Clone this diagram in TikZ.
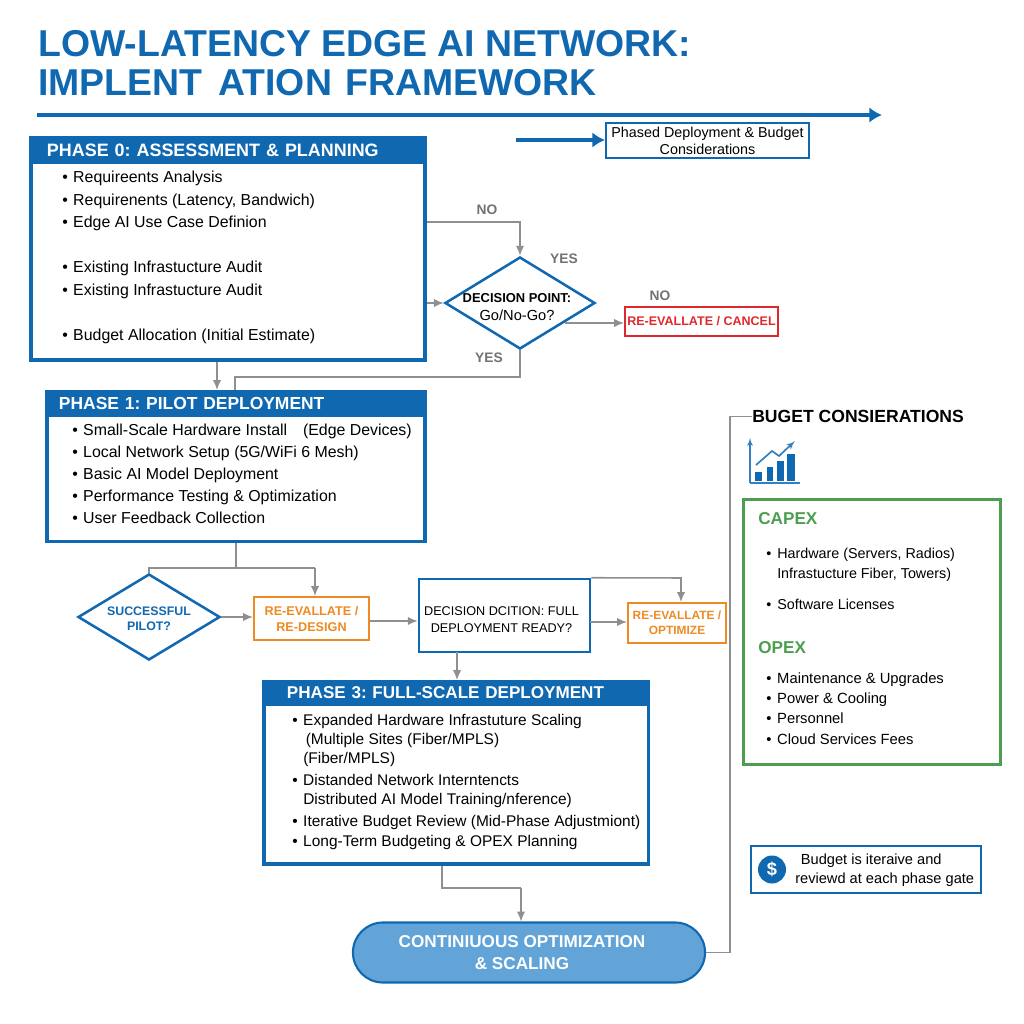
\documentclass[tikz,border=0pt]{standalone}
\usepackage{fontspec}
\setmainfont{Liberation Sans}
\usetikzlibrary{shapes,arrows,arrows.meta}
\definecolor{bluemain}{HTML}{1068B0}
\definecolor{greenmain}{HTML}{4C9F50}
\definecolor{orangemain}{HTML}{EE8A24}
\definecolor{redmain}{HTML}{E0282C}
\definecolor{graymain}{HTML}{8F8F8F}
\definecolor{pillfill}{HTML}{62A4D8}
\newcommand{\bul}{\makebox[7.8pt][l]{\textbullet}}
\newcommand{\nob}{\hspace*{7.8pt}}
\tikzstyle{phase} = [rectangle, draw=bluemain, line width=2.5pt, inner sep=0pt]
\tikzstyle{header} = [rectangle, fill=bluemain, text=white, inner sep=0pt, align=left, font=\fontsize{12.4}{15}\selectfont\bfseries]
\tikzstyle{body} = [anchor=west, inner sep=0pt, align=left, font=\fontsize{11.3}{16}\selectfont]
\tikzstyle{ask} = [diamond, draw=bluemain, line width=1.8pt, inner sep=0pt]
\tikzstyle{redo} = [rectangle, draw=orangemain, line width=1.5pt, text=orangemain, align=center, inner sep=0pt]
\tikzstyle{tag} = [inner sep=0pt, text=graymain!80!black, font=\fontsize{9.8}{12}\selectfont\bfseries]
\tikzstyle{note} = [rectangle, draw=bluemain, line width=1.4pt, inner sep=0pt, align=center]
\tikzstyle{line} = [draw=graymain, line width=1.1pt, -{Latex[length=7pt,width=6pt]}]
\tikzstyle{plain} = [draw=graymain, line width=1.1pt]
\tikzstyle{bigline} = [draw=bluemain, line width=2.6pt, -{Latex[length=9pt,width=11pt]}]
\begin{document}
\frenchspacing
\begin{tikzpicture}[x=0.025cm, y=-0.025cm]
	\useasboundingbox (0,0) rectangle (1024,1024);

		\node [anchor=west, inner sep=0pt, text=bluemain, align=left, font=\fontsize{26.6}{27.7}\selectfont\bfseries] (title) at (38,63) {LOW-LATENCY EDGE AI NETWORK:\\IMPLENT\hspace{4pt} ATION\hspace{2pt} FRAMEWORK};
		\coordinate (rulestart) at (37,115);
		\coordinate (ruleend) at (882,115);
		\path [bigline] (rulestart) -- (ruleend);

		\node [note, minimum width=5.075cm, minimum height=0.875cm, font=\fontsize{10.2}{12}\selectfont] (legend) at (707.5,140.5) {Phased Deployment \& Budget\\Considerations};
		\coordinate (legendstart) at (516,140);
		\path [bigline] (legendstart) -- (legend.west |- legendstart);

		\node [phase, minimum width=9.86cm, minimum height=5.56cm] (phase0) at (228,249) {};
		\node [header, minimum width=9.95cm, minimum height=0.7cm, text width=9.05cm, font=\fontsize{12.75}{15}\selectfont\bfseries] (head0) at (228,150) {PHASE 0: ASSESSMENT \& PLANNING};
		\node [body] (list0) at (62,257.5) {\bul Requireents Analysis\\\bul Requirenents (Latency, Bandwich)\\\bul Edge AI Use Case Definion\\[16pt]\bul Existing Infrastucture Audit\\\bul Existing Infrastucture Audit\\[16pt]\bul Budget Allocation (Initial Estimate)};

		\node [ask, minimum width=3.75cm, minimum height=2.3cm] (decision) at (520,303) {};
		\node [inner sep=0pt, align=center, font=\fontsize{9.2}{13}\selectfont] (decisiontext) at (517,307) {\textbf{DECISION POINT:}\\\fontsize{10.4}{13}\selectfont Go/No-Go?};
		\node [rectangle, draw=redmain, line width=1.4pt, minimum width=3.825cm, minimum height=0.725cm, inner sep=0pt, text=redmain, font=\fontsize{8.9}{12}\selectfont\bfseries] (cancel) at (701.5,321.5) {RE-EVALLATE / CANCEL};
		\node [tag] (tagno1) at (487,210) {NO};
		\node [tag] (tagyes1) at (564,259) {YES};
		\node [tag] (tagno2) at (660,296) {NO};
		\node [tag] (tagyes2) at (489,358) {YES};

		\node [phase, minimum width=9.46cm, minimum height=3.74cm] (phase1) at (236,466.5) {};
		\node [header, minimum width=9.55cm, minimum height=0.675cm, text width=8.85cm] (head1) at (236,403.5) {PHASE 1: PILOT DEPLOYMENT};
		\node [body, font=\fontsize{11.3}{15.7}\selectfont] (list1) at (72,474) {\bul Small-Scale Hardware Install\quad (Edge Devices)\\\bul Local Network Setup (5G/WiFi 6 Mesh)\\\bul Basic AI Model Deployment\\\bul Performance Testing \& Optimization\\\bul User Feedback Collection};

		\node [ask, minimum width=3.55cm, minimum height=2.15cm] (pilot) at (149,617) {};
		\node [inner sep=0pt, align=center, text=bluemain, font=\fontsize{8.8}{10.4}\selectfont\bfseries] (pilottext) at (149,619) {SUCCESSFUL\\PILOT?};
		\node [redo, minimum width=2.875cm, minimum height=1.075cm, font=\fontsize{9}{11.4}\selectfont\bfseries] (redesign) at (311.5,618.5) {RE-EVALLATE /\\RE-DESIGN};
		\node [rectangle, draw=bluemain, line width=1.8pt, minimum width=4.275cm, minimum height=1.825cm, inner sep=0pt] (ready) at (504.5,615.5) {};
		\node [inner sep=0pt, align=center, font=\fontsize{9}{12}\selectfont] (readytext) at (501.5,620) {DECISION DCITION: FULL\\DEPLOYMENT READY?};
		\node [redo, minimum width=2.45cm, minimum height=1cm, font=\fontsize{8.5}{10.7}\selectfont\bfseries] (optimize) at (677,623) {RE-EVALLATE /\\OPTIMIZE};

		\node [phase, minimum width=9.61cm, minimum height=4.56cm] (phase3) at (456,773) {};
		\node [header, minimum width=9.7cm, minimum height=0.65cm, text width=8.45cm, font=\fontsize{12.15}{15}\selectfont\bfseries] (head3) at (456,693) {PHASE 3: FULL-SCALE DEPLOYMENT};
		\node [body, font=\fontsize{11}{13.5}\selectfont] (list3) at (292,782) {\bul Expanded Hardware Infrastuture Scaling\\\nob\,(Multiple Sites (Fiber/MPLS)\\\nob(Fiber/MPLS)\\[2.2pt]\bul Distanded Network Interntencts\\\nob Distributed AI Model Training/nference)\\[2.2pt]\bul Iterative Budget Review (Mid-Phase Adjustmiont)\\[0.8pt]\bul Long-Term Budgeting \& OPEX Planning};

		\node [rounded rectangle, draw=bluemain, line width=1.5pt, fill=pillfill, minimum width=8.8cm, minimum height=1.5cm, inner sep=0pt] (scaling) at (529,952.5) {};
		\node [inner sep=0pt, align=center, text=white, font=\fontsize{12.2}{16}\selectfont\bfseries] (scalingtext) at (522,952.5) {CONTINIUOUS OPTIMIZATION\\\& SCALING};

		\node [anchor=west, inner sep=0pt, font=\fontsize{12.5}{14}\selectfont\bfseries] (budget) at (752,416.5) {BUGET CONSIERATIONS};

		% chart icon
		\draw [bluemain!85!white, line width=0.9pt, -latex'] (750,483) -- (750,438);
		\draw [bluemain!85!white, line width=0.9pt] (750,483) -- (800,483);
		\fill [bluemain] (755,472) rectangle (762,481);
		\fill [bluemain] (767,467) rectangle (773,481);
		\fill [bluemain] (777,461) rectangle (784,481);
		\fill [bluemain] (787,454) rectangle (795,481);
		\draw [bluemain!85!white, line width=1.2pt, -latex'] (756,465) -- (772,451) -- (779,456) -- (795,441);

		\node [rectangle, draw=greenmain, line width=2.4pt, minimum width=6.41cm, minimum height=6.62cm, inner sep=0pt] (costs) at (872,632) {};
		\node [anchor=west, inner sep=0pt, text=greenmain, font=\fontsize{12.2}{14}\selectfont\bfseries] (capex) at (758,519) {CAPEX};
		\node [body, font=\fontsize{10.2}{14.4}\selectfont] (capexlist) at (766,578.5) {\bul Hardware (Servers, Radios)\\\nob Infrastucture Fiber, Towers)\\[7.6pt]\bul Software Licenses};
		\node [anchor=west, inner sep=0pt, text=greenmain, font=\fontsize{12.2}{14}\selectfont\bfseries] (opex) at (758,648) {OPEX};
		\node [body, font=\fontsize{10.5}{14.5}\selectfont] (opexlist) at (766,708.5) {\bul Maintenance \& Upgrades\\\bul Power \& Cooling\\\bul Personnel\\\bul Cloud Services Fees};

		\node [note, minimum width=5.75cm, minimum height=1.175cm] (iterative) at (866,869.5) {};
		\node [anchor=west, inner sep=0pt, align=left, font=\fontsize{10.4}{13.5}\selectfont] (iterativetext) at (795,870.5) {\hspace*{4pt}Budget is iteraive and\\reviewd at each phase gate};
		\node [circle, fill=bluemain, text=white, minimum size=0.7cm, inner sep=0pt, font=\fontsize{13}{14}\selectfont\bfseries] (dollar) at (772,869.5) {\$};

		\coordinate (noturn) at (520,222);
		\coordinate (yesturn) at (235,377);
		\coordinate (cancelout) at (565,323);
		\coordinate (phase0out) at (217,362);
		\coordinate (pilotturn) at (315,568);
		\coordinate (readyin) at (417,621);
		\coordinate (readyout) at (590,622);
		\coordinate (readyturn) at (681,578);
		\coordinate (readydown) at (457,652);
		\coordinate (scaleturn) at (442,888);
		\coordinate (scaledrop) at (521,888);
		\coordinate (budgetturn) at (730,416.5);

		\path [line] (phase0.east |- noturn) -| (decision.north);
		\path [line] (phase0.east |- decision) -- (decision.west);
		\path [line] (cancelout) -- (cancel.west |- cancelout);
		\path [line] (phase0out) -- (phase1.north -| phase0out);
		\draw [plain] (decision.south) |- (yesturn) -- (phase1.north -| yesturn);
		\draw [plain] (phase1.south) -- (phase1.south |- pilotturn);
		\draw [plain] (pilot.north) -- (pilot.north |- pilotturn) -- (pilotturn);
		\path [line] (pilotturn) -- (redesign.north -| pilotturn);
		\path [line] (pilot.east) -- (redesign.west |- pilot.east);
		\path [line] (redesign.east |- readyin) -- (ready.west |- readyin);
		\path [line] (readyout) -- (optimize.west |- readyout);
		\path [line] (ready.north east) -- (readyturn) -- (optimize.north -| readyturn);
		\path [line] (readydown) -- (phase3.north -| readydown);
		\draw [plain] (phase3.south -| scaleturn) -- (scaleturn) -- (scaledrop);
		\path [line] (scaledrop) -- (scaling.north -| scaledrop);
		\draw [plain] (scaling.east) -| (budgetturn) -- (budget.west);
	\end{tikzpicture}
\end{document}
